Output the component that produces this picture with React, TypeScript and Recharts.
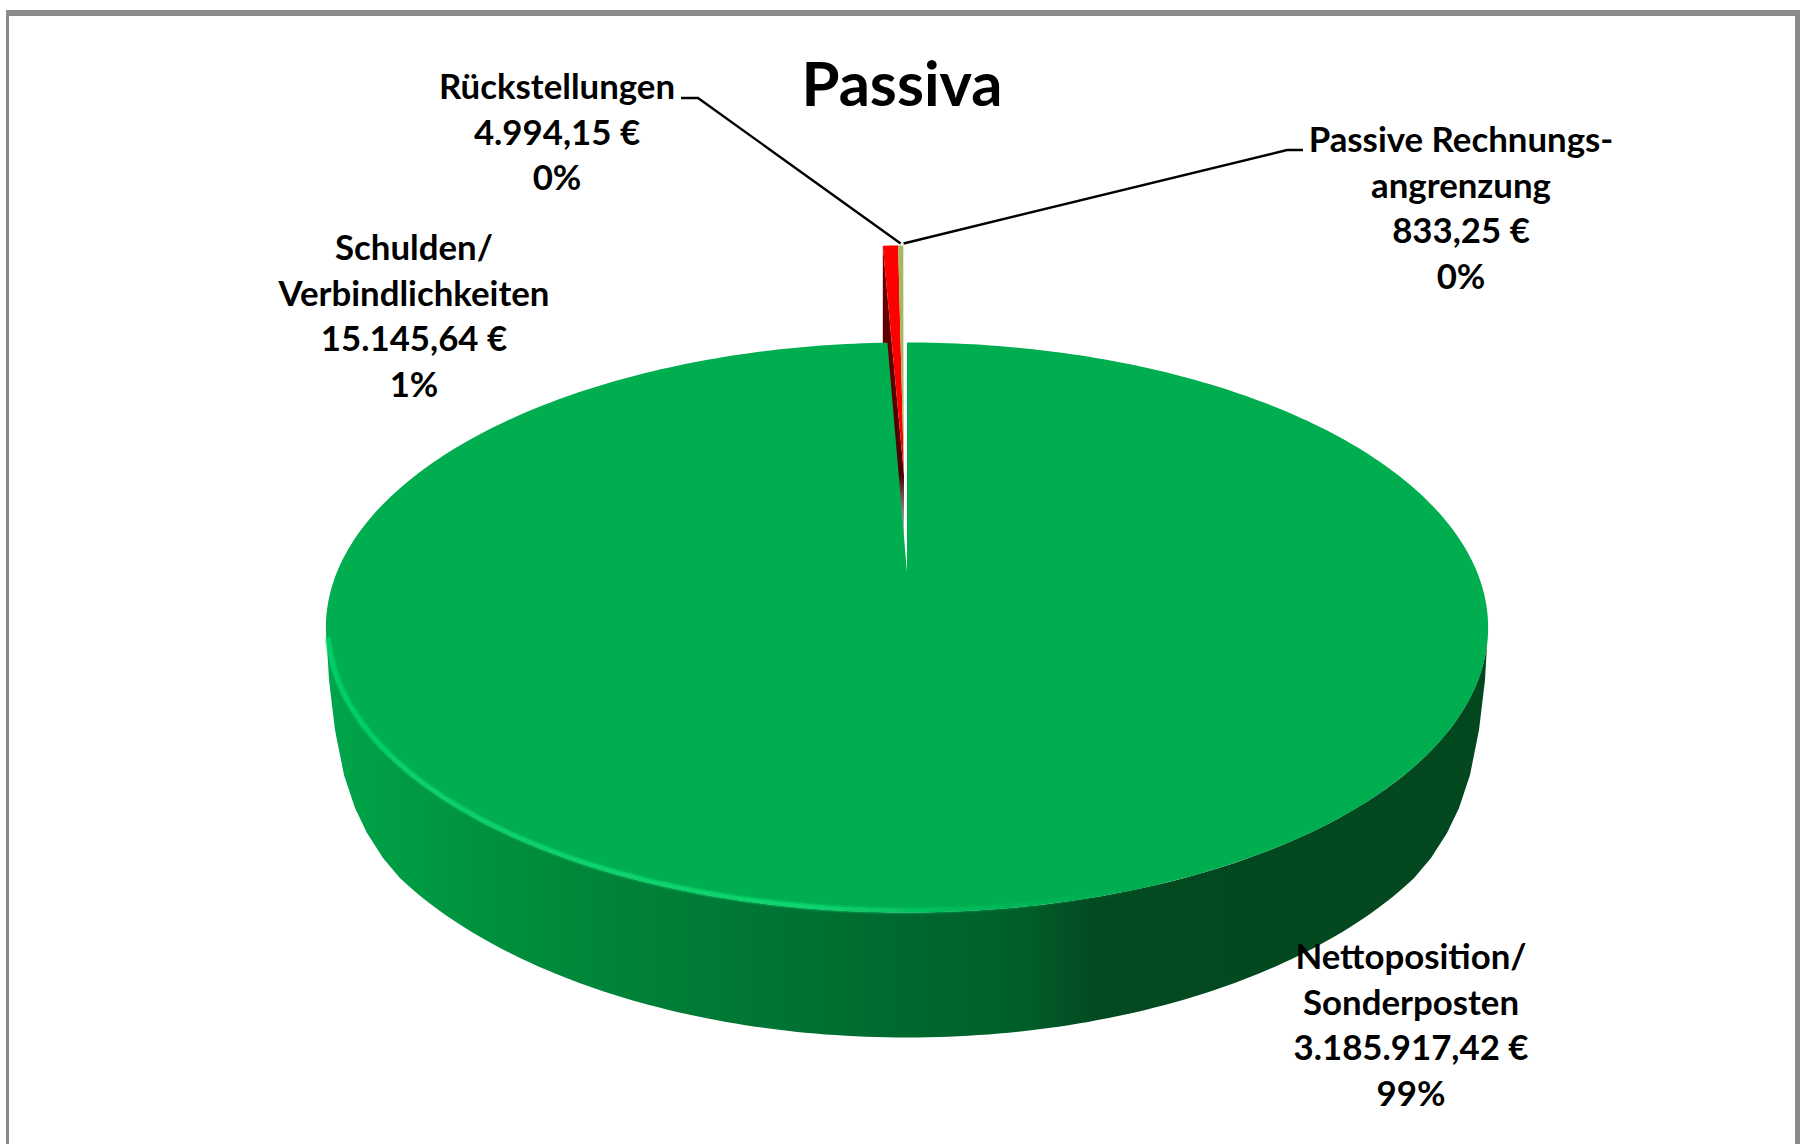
import React from "react";
import { PieChart, Pie } from "recharts";

const sliceNames = ["Schulden/Verbindlichkeiten", "Rückstellungen", "Passive Rechnungsabgrenzung", "Nettoposition/Sonderposten"];
const sliceValues = [15145.64, 4994.15, 833.25, 3185917.42];
const sliceColors = ["#ff0000", "#a3b866", "#efe6b4", "#00ad4f"];
const labelNames = [
  ["Schulden/", "Verbindlichkeiten"],
  ["Rückstellungen"],
  ["Passive Rechnungs-", "angrenzung"],
  ["Nettoposition/", "Sonderposten"],
];
const labelPercents = ["1%", "0%", "0%", "99%"];

const total = sliceValues.reduce((a, b) => a + b, 0);
const smallShare = (total - sliceValues[3]) / total;
const startAngle = 90 + smallShare * 360;

const data = sliceNames.map((name, i) => ({
  name,
  value: sliceValues[i],
  fill: sliceColors[i],
  slice: i,
}));

// layout of the fake 3D disc
const W = 1805;
const H = 1144;
const CX = 907;
const APEX_Y = 572;
const RADIUS = 570;
const TOP = { y: 627.5, rx: 581, ry: 285 };
const BOTTOM = { y: 719.5, rx: 585, ry: 318 };
const WALL_CORNER = [[329, 680], [335, 730], [344, 775], [355, 808], [367, 833], [383, 858]];
const PERSP = 0.1947;
const FORESHORTEN = 274.2;
const EXPLODE_Y = 97;
const EXPLODE_X = 3;
const EXPLODE_WIDEN = 1.08;
const DEPTH = 150;
const FONT = "Lato, 'Open Sans', sans-serif";
const LABEL_SIZE = 34.8;
const LINE_GAP = 45.6;

const labelLayout = [
  { x: 414, y: 260, line: null },
  { x: 557, y: 99, line: [[681, 98], [698, 98]] },
  { x: 1461, y: 152, line: [[1303, 150], [1287, 150]] },
  { x: 1411, y: 969, line: null },
];

const rim = (cx: number, cy: number, r: number, deg: number) => {
  const rad = (deg * Math.PI) / 180;
  const u = Math.cos(rad);
  const v = -Math.sin(rad);
  const k = 1 - PERSP * v;
  return [cx + (r * u) / k, cy + (FORESHORTEN * v) / k];
};

const toPath = (pts: number[][]) =>
  "M" + pts.map((p) => `${p[0].toFixed(2)},${p[1].toFixed(2)}`).join("L") + "Z";

const ellipseArc = (e: { y: number; rx: number; ry: number }, from: number, to: number) => {
  const pts: number[][] = [];
  const steps = 120;
  for (let i = 0; i <= steps; i++) {
    const t = ((from + ((to - from) * i) / steps) * Math.PI) / 180;
    pts.push([CX + e.rx * Math.cos(t), e.y + e.ry * Math.sin(t)]);
  }
  return pts;
};

const explodeTransform = `translate(${CX - EXPLODE_X},${-EXPLODE_Y}) scale(${EXPLODE_WIDEN},1) translate(${-CX},0)`;

const DiscSector = (props: any) => {
  const { cx, cy, outerRadius, startAngle: a0, endAngle: a1, fill, slice } = props;
  const steps = Math.max(2, Math.ceil(Math.abs(a1 - a0)));
  const edge: number[][] = [];
  for (let i = 0; i <= steps; i++) {
    edge.push(rim(cx, cy, outerRadius, a0 + ((a1 - a0) * i) / steps));
  }
  const top = toPath([[cx, cy], ...edge]);

  if (slice === 3) {
    const mirrored = [...WALL_CORNER].reverse().map((p) => [2 * CX - p[0], p[1]]);
    const wall = toPath([
      ...ellipseArc(TOP, 0, 180),
      ...WALL_CORNER,
      ...ellipseArc(BOTTOM, 150.1, 29.9),
      ...mirrored,
    ]);
    const shine = ellipseArc({ y: TOP.y, rx: TOP.rx - 2, ry: TOP.ry - 2 }, 178, 58);
    return (
      <g>
        <path d={wall} fill="url(#wallShade)" />
        <path d={top} fill={fill} />
        <path
          d={"M" + shine.map((p) => p.join(",")).join("L")}
          fill="none"
          stroke="url(#rimShine)"
          strokeWidth={5}
          filter="url(#soft)"
        />
      </g>
    );
  }

  // small slices are pulled out of the disc
  const first = edge[0];
  return (
    <g transform={explodeTransform}>
      {slice === 0 && (
        <path
          d={toPath([[cx, cy], first, [first[0], first[1] + DEPTH], [cx, cy + DEPTH]])}
          fill="url(#cutShade)"
        />
      )}
      <path d={top} fill={fill} />
    </g>
  );
};

const euro = (v: number) =>
  v.toLocaleString("de-DE", { minimumFractionDigits: 2, maximumFractionDigits: 2 }) + " €";

const SliceLabel = (props: any) => {
  const { index, cx, cy, outerRadius, midAngle, value } = props;
  const place = labelLayout[index];
  const lines = [...labelNames[index], euro(value), labelPercents[index]];
  let leader = null;
  if (place.line) {
    const tip = rim(cx, cy, outerRadius, midAngle);
    const tipX = CX - EXPLODE_X + (tip[0] - CX) * EXPLODE_WIDEN;
    const pts = [...place.line, [tipX, tip[1] - EXPLODE_Y - 2]];
    leader = <polyline points={pts.map((p) => p.join(",")).join(" ")} fill="none" stroke="#000" strokeWidth={2.4} />;
  }
  return (
    <g>
      {leader}
      {lines.map((t, i) => (
        <text
          key={i}
          x={place.x}
          y={place.y + i * LINE_GAP}
          textAnchor="middle"
          fontFamily={FONT}
          fontWeight={700}
          fontSize={LABEL_SIZE}
          fill="#000"
        >
          {t}
        </text>
      ))}
    </g>
  );
};

export default function App() {
  return (
    <div style={{ position: "absolute", left: 0, top: 0, width: W, height: H, background: "#fff", overflow: "hidden" }}>
      <div style={{ position: "absolute", left: 6, top: 10, width: 1794, height: 1134, boxSizing: "border-box", borderStyle: "solid", borderColor: "#8a8a8a", borderWidth: "6px 5px 0 3px" }} />
      <PieChart width={W} height={H} margin={{ top: 0, right: 0, bottom: 0, left: 0 }} style={{ position: "absolute", left: 0, top: 0 }}>
        <defs>
          <linearGradient id="wallShade" gradientUnits="userSpaceOnUse" x1={326} x2={1490} y1={0} y2={0}>
            <stop offset="0" stopColor="#00a549" />
            <stop offset="0.15" stopColor="#008f3d" />
            <stop offset="0.3" stopColor="#007d37" />
            <stop offset="0.45" stopColor="#006d31" />
            <stop offset="0.6" stopColor="#005e2a" />
            <stop offset="0.66" stopColor="#034a20" />
            <stop offset="1" stopColor="#03471f" />
          </linearGradient>
          <linearGradient id="rimShine" gradientUnits="userSpaceOnUse" x1={326} x2={1200} y1={0} y2={0}>
            <stop offset="0" stopColor="#06d068" />
            <stop offset="0.55" stopColor="#0cd872" />
            <stop offset="1" stopColor="#00ad4f" stopOpacity="0" />
          </linearGradient>
          <linearGradient id="cutShade" gradientUnits="userSpaceOnUse" x1={0} x2={0} y1={342} y2={670}>
            <stop offset="0" stopColor="#700000" />
            <stop offset="0.7" stopColor="#4a0000" />
            <stop offset="0.85" stopColor="#aaaaaa" />
            <stop offset="1" stopColor="#ffffff" />
          </linearGradient>
          <filter id="soft" x="-5%" y="-5%" width="110%" height="110%">
            <feGaussianBlur stdDeviation="1" />
          </filter>
        </defs>
        <Pie
          data={data}
          dataKey="value"
          nameKey="name"
          cx={CX}
          cy={APEX_Y}
          outerRadius={RADIUS}
          startAngle={startAngle}
          endAngle={startAngle - 360}
          stroke="none"
          shape={DiscSector}
          label={SliceLabel}
          labelLine={false}
          isAnimationActive={false}
        />
        <text x={902} y={106} textAnchor="middle" fontFamily={FONT} fontWeight={700} fontSize={61.5} fill="#000">
          Passiva
        </text>
      </PieChart>
    </div>
  );
}
